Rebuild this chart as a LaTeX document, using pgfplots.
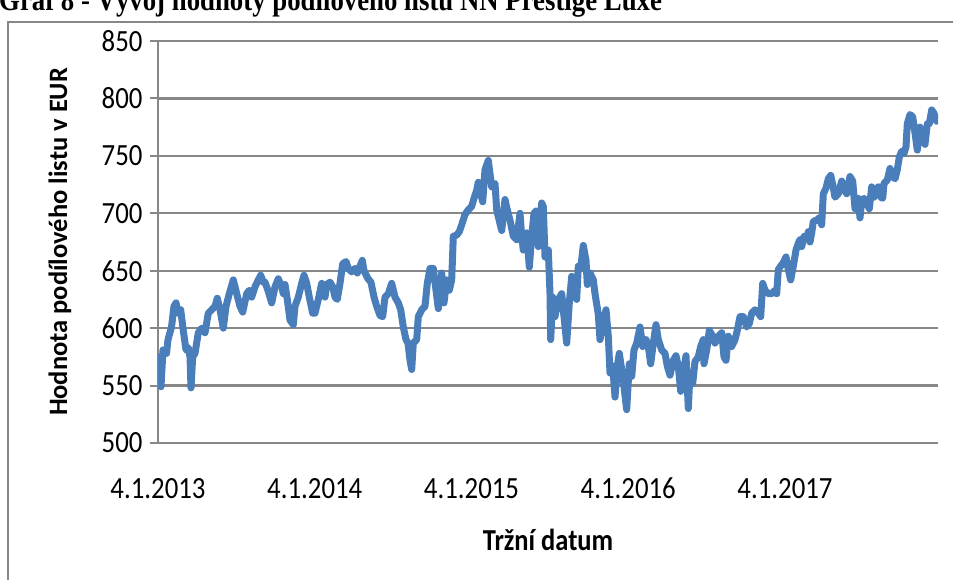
\documentclass[border=0pt]{standalone}
\usepackage{pgfplots}
\pgfplotsset{compat=1.18}
\usepackage{fontspec}
\setmainfont{Carlito}
\newfontfamily\titlefont{Liberation Serif}
\definecolor{lineblue}{HTML}{4A7EBB}
\definecolor{gridgray}{HTML}{878787}
\newcommand{\st}[1]{\scalebox{1}[1.15]{#1}}
\begin{document}
\begin{tikzpicture}
\path[use as bounding box] (0pt,0pt) rectangle (953pt,579pt);
\draw[gridgray, line width=2pt] (8pt,-10pt) -- (8pt,557pt) -- (970pt,557pt);
\node[anchor=base west, inner sep=0pt, font=\titlefont\bfseries\fontsize{26.8}{30}\selectfont] at (-1pt,568.5pt) {\scalebox{1}[1.15]{Graf 8 - Vývoj hodnoty podílového listu NN Prestige Luxe}};
\begin{axis}[
  at={(158pt,136pt)}, anchor=south west,
  scale only axis, width=780pt, height=402pt,
  xmin=158, xmax=938, ymin=500, ymax=850,
  ytick={500,550,...,850},
  xtick={158,314.75,471.5,628.25,785},
  xticklabels={\st{4.1.2013},\st{4.1.2014},\st{4.1.2015},\st{4.1.2016},\st{4.1.2017}},
  yticklabel={\st{\pgfmathprintnumber{\tick}}},
  axis lines*=left,
  axis line style={gridgray, line width=2pt},
  ymajorgrids, grid style={gridgray, line width=2.2pt},
  tick align=outside,
  x axis line style={draw opacity=0},
  xtick style={draw=none},
  ytick style={gridgray, line width=2pt},
  major tick length=8pt,
  /pgf/number format/assume math mode=true,
  ticklabel style={font=\fontsize{26.8}{30}\selectfont, text=black},
  xticklabel style={anchor=base, yshift=-47pt},
  yticklabel style={anchor=east, xshift=-4pt},
  xlabel={\st{Tržní datum}},
  ylabel={Hodnota podílového listu v EUR},
  label style={font=\bfseries\fontsize{26.5}{30}\selectfont},
  xlabel style={at={(axis description cs:0.5,-0.2413)}, anchor=center},
  ylabel style={at={(axis description cs:-0.1256,0.5)}, anchor=center, rotate=0},
]
\addplot[lineblue, line width=7pt, line join=round, line cap=round] coordinates {
(159,575)(161,549)(163,581)(166.5,578)(168,590)(171.5,601)(174,619)(176,622)(178.3,613)(180.7,616)
(183.3,598)(186,581)(188.3,583)(190,575)(191,548)(192.7,575)(195,578)(198.3,596)(201.7,600)(205,596)
(208.3,613)(211.7,616)(215,619)(217.3,626)(220,616)(223.3,600)(226,619)(229.3,630)(233.3,642)(236.7,630)
(240,619)(242.7,614)(246.7,630)(249.3,633)(251.7,627)(255,636)(258.3,642)(260.7,646)(263.3,640)(265,640)
(268.3,632)(271.7,622)(275,636)(278.3,643)(281.7,636)(283.3,630)(285,638)(287.3,625)(290,607)(293.3,603)
(295,619)(298.3,627)(301.7,639)(304,646)(306.7,639)(309.3,627)(312.7,613)(315,613)(318.3,625)(321.7,639)
(325,627)(326.7,638)(330,640)(332.7,636)(335,627)(337.3,625)(340,639)(342.7,656)(346,658)(348.3,652)
(351.7,649)(355,652)(357.3,648)(360,654)(362.3,659)(364,650)(368,643)(371,640)(374,627)(376.7,619)
(380,611)(382.7,610)(385,627)(388.3,630)(391.7,639)(395,627)(398.3,622)(400.7,616)(403.3,601)(406,590)
(408,587)(410,572)(411.7,564)(413.3,587)(416.7,590)(418.3,610)(421.7,616)(425,619)(427.3,639)(430,652)
(433.3,652)(436,633)(438.3,617)(440,627)(441.7,648)(444,622)(446.7,642)(449.3,633)(451.7,642)(453.3,680)
(456.7,681)(459.3,684)(461.7,690)(465,699)(468.3,703)(471.7,706)(474,713)(476.7,720)(478.3,727)(480.7,717)
(482.7,710)(485,738)(488.3,746)(491.7,723)(493.3,725)(495,726)(496.7,703)(498.3,697)(501.7,685)(505,712)
(506.7,705)(510,694)(513.3,680)(516.7,677)(520,700)(521.7,680)(523.3,668)(526.7,683)(529.3,653)(531.7,680)
(534,700)(536,702)(538.3,671)(541.7,709)(543.3,706)(545,662)(548.3,668)(550,630)(550.7,590)(552.7,627)
(555,610)(558.3,625)(561.7,630)(564,610)(566.7,587)(569.3,622)(571.7,645)(575,642)(576.7,625)(578.3,654)
(580.7,652)(583.3,672)(586,659)(587.3,638)(590,648)(593.3,642)(595,630)(598.3,612)(600,590)(603.3,605)
(606,616)(608.3,593)(610,561)(612.7,567)(615,540)(617.3,567)(619.3,578)(621.7,564)(624,549)(626.7,529)
(629.3,569)(631.7,558)(634,581)(636.7,587)(640,601)(642.7,584)(646,590)(648.3,584)(650.7,569)(653.3,587)
(656,603)(658.3,590)(661.7,581)(665,578)(667.3,567)(670,559)(673.3,572)(676,576)(678.3,567)(680.7,545)
(683.3,561)(686,576)(688.3,530)(690,561)(692.7,552)(695,571)(698.3,575)(700.7,584)(703.3,590)(704,569)
(706.7,581)(709.3,598)(712.7,593)(715,587)(718.3,593)(721.7,596)(724,575)(726,572)(728.3,593)(731.7,584)
(735,590)(737.3,598)(740,610)(743.3,610)(746.7,601)(749.3,604)(751.7,613)(755,616)(758.3,613)(760.7,610)
(762.7,639)(765,633)(768.3,630)(771.7,630)(775,633)(776.7,630)(778.3,651)(780.7,654)(783.3,657)(786,662)
(788.3,651)(790.7,642)(793.3,654)(796,668)(798.3,674)(800,677)(801.7,671)(804,680)(806.7,678)(808.3,684)
(810,675)(811.7,683)(813.3,693)(816.7,694)(819.3,696)(821.7,690)(823.3,717)(826,722)(828.3,730)(830.7,733)
(832.7,725)(835,714)(838.3,717)(841.7,728)(843.3,722)(846.7,717)(850,732)(852.7,728)(855,704)(856.7,709)
(858.3,713)(860,696)(861.7,711)(864,713)(866.7,709)(869.3,704)(871.7,723)(874,714)(876,720)(878.3,723)
(880.7,714)(882.7,713)(884,726)(887.3,729)(890,739)(892.7,732)(895,730)(897.3,738)(899.3,749)(901.7,754)
(904,752)(906,758)(907.3,778)(910,786)(912.7,784)(915,770)(917.3,755)(920,775)(923.3,764)(925,760)
(927.3,778)(929.3,778)(931.7,790)(934,787)(936.7,780)(938,781)
};
\end{axis}
\end{tikzpicture}
\end{document}
